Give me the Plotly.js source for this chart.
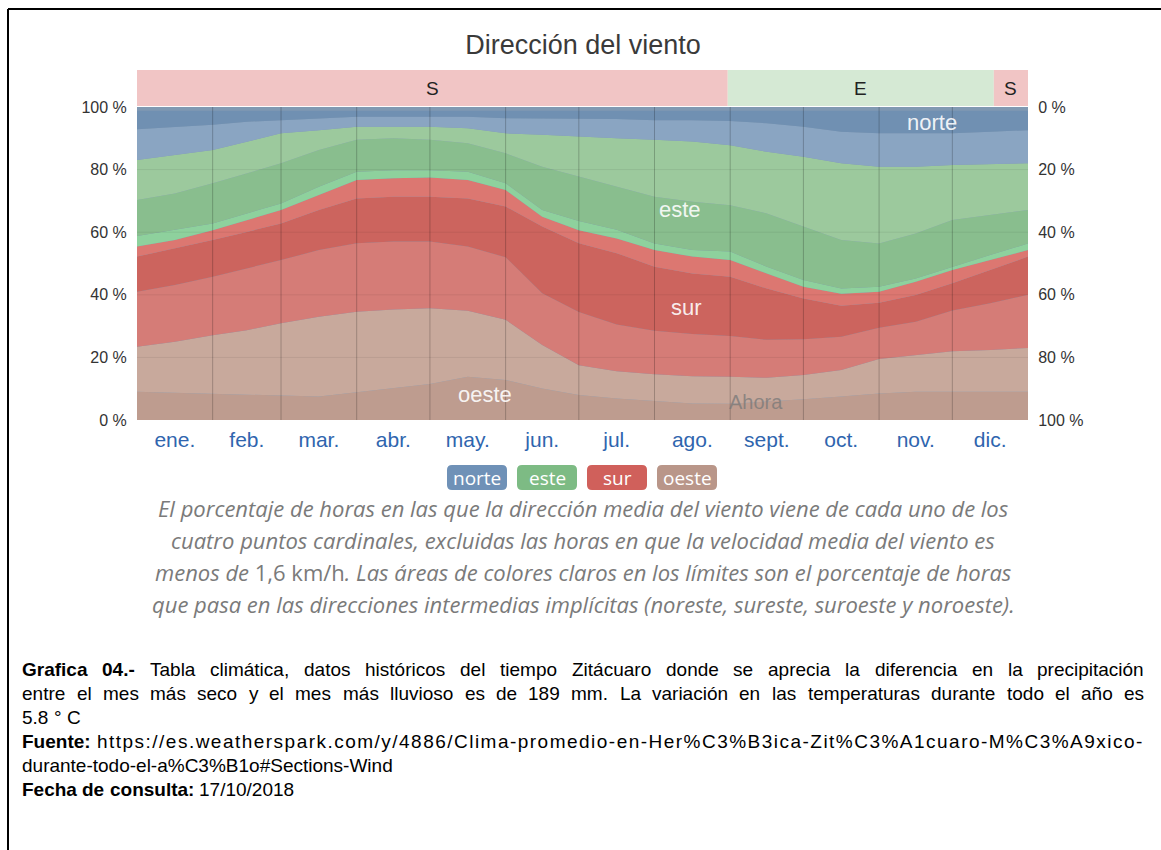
<!DOCTYPE html>
<html><head><meta charset="utf-8">
<script src="https://cdn.plot.ly/plotly-3.0.1.min.js"></script>
<style>html,body{margin:0;padding:0;background:#fff;overflow:hidden}#chart{width:1161px;height:850px}</style>
</head><body><div id="chart"></div>
<script>
// ---- data (percent of hours, cumulative band tops, bottom -> top) ----
const days = [0,15.5,31,45,59,74.5,90,105,120,135.5,151,166,181,196.5,212,227.5,243,258,273,288.5,304,319,334,349.5,365];
const monthLabels = ['ene.','feb.','mar.','abr.','may.','jun.','jul.','ago.','sept.','oct.','nov.','dic.'];
const monthMid = [15.5,45,74.5,105,135.5,166,196.5,227.5,258,288.5,319,349.5];
const monthStarts = [31,59,90,120,151,181,212,243,273,304,334];
const pctTicks = [0,20,40,60,80,100];
const pctLabels = ['0 %','20 %','40 %','60 %','80 %','100 %'];

const oesteCoreTop  = [9.0,8.7,8.5,8.0,7.8,7.5,8.9,10.1,11.5,13.8,12.8,10.1,8.0,6.9,6.0,5.3,5.2,5.8,6.6,7.5,8.5,9.0,9.0,9.0,9.0];
const oesteLightTop = [23.4,25.0,27.1,28.7,30.9,33.0,34.6,35.3,35.7,34.9,32.0,24.0,17.5,15.6,14.6,14.0,13.8,13.5,14.4,16.0,19.5,20.8,22.0,22.4,23.0];
const surLowTop     = [41.0,43.1,45.8,48.4,51.1,54.3,56.5,57.0,57.0,55.4,52.0,40.5,34.5,30.5,28.5,27.5,26.8,25.6,25.8,26.6,29.5,31.4,35.0,37.3,40.0];
const surCoreTop    = [52.2,54.8,57.5,60.1,62.8,67.1,70.8,71.3,71.3,70.8,68.2,61.8,56.5,53.3,49.0,46.8,45.8,42.0,38.8,36.5,37.5,39.9,43.7,47.9,52.2];
const surHighTop    = [55.4,57.5,60.6,63.9,67.1,71.9,76.7,77.2,77.5,76.7,73.5,64.9,60.6,58.0,54.3,52.2,51.1,46.8,42.6,40.3,41.0,44.2,47.9,51.1,54.3];
const esteLowTop    = [58.8,60.8,62.8,66.0,69.2,74.5,79.3,79.8,79.8,79.3,75.6,67.1,63.6,60.8,56.4,54.3,53.8,49.0,44.7,42.0,42.6,45.2,49.0,52.7,56.4];
const esteCoreTop   = [70.3,72.4,75.6,78.8,82.0,86.3,89.5,90.0,89.5,88.4,85.2,80.9,77.7,74.5,71.3,69.7,68.6,66.0,61.8,57.5,56.4,59.6,63.9,65.5,67.1];
const esteHighTop   = [83.1,84.7,86.3,88.9,91.6,92.6,93.7,93.7,93.7,93.2,91.6,91.1,90.5,90.0,89.5,89.0,87.8,85.7,84.1,82.0,80.9,80.9,81.5,81.8,82.0];
const norteLowTop   = [92.9,93.7,94.3,95.3,95.8,96.4,96.9,96.9,96.9,96.9,96.4,96.4,96.4,96.2,95.8,95.8,95.5,94.8,93.7,92.1,91.6,91.6,91.6,92.1,92.6];
const norteCoreTop  = [98.8,98.8,98.7,98.8,98.8,98.9,98.8,98.8,98.7,98.8,98.8,98.8,98.7,98.8,98.8,98.8,98.7,98.8,98.8,98.8,98.7,98.8,98.8,98.8,98.8];

// dominant direction bar
const domLabels = ['S','E','S'];
const domStart  = [0,242,351];
const domEnd    = [242,351,365];

const legendNames = ['norte','este','sur','oeste'];
const legendColors = ['#6f91b7','#7dbb84','#d0605b','#b99689'];

// ---- drawing ----
const bands = [
  [oesteCoreTop,'#be9c8f'],[oesteLightTop,'#c8a99c'],[surLowTop,'#d57c77'],[surCoreTop,'#cc645e'],
  [surHighTop,'#dc7771'],[esteLowTop,'#8ed19d'],[esteCoreTop,'#89be8e'],[esteHighTop,'#9cc99d'],
  [norteLowTop,'#8aa5c2'],[norteCoreTop,'#7090b2']
];
const traces = bands.map((b,i)=>({
  x: days, y: b[0], type:'scatter', mode:'lines',
  line:{width:0,color:b[1]}, fill: i===0?'tozeroy':'tonexty', fillcolor:b[1],
  hoverinfo:'skip', showlegend:false
}));
// invisible trace so the right-hand (reversed) axis is drawn
traces.push({x:days,y:norteCoreTop,yaxis:'y2',type:'scatter',mode:'none',hoverinfo:'skip',showlegend:false});

const W=1161,H=850,L=137,R=1028,T=107,B=420;
const px = x=>(x-L)/(R-L), py = y=>(B-y)/(B-T);
const FONT = 'Liberation Sans, Arial, sans-serif';

const shapes = [];
monthStarts.forEach(d=>shapes.push({type:'line',xref:'x',yref:'paper',x0:d,x1:d,y0:0,y1:1,line:{color:'rgba(0,0,0,0.22)',width:1},layer:'above'}));
[20,40,60,80].forEach(v=>shapes.push({type:'line',xref:'paper',yref:'y',x0:0,x1:1,y0:v,y1:v,line:{color:'rgba(0,0,0,0.07)',width:1},layer:'above'}));
domLabels.forEach((s,i)=>shapes.push({type:'rect',xref:'x',yref:'paper',x0:domStart[i],x1:domEnd[i],y0:py(106),y1:py(70),line:{width:0},fillcolor:s==='S'?'#f1c5c5':'#d5e9d4',layer:'below'}));
// frame
shapes.push({type:'line',xref:'paper',yref:'paper',x0:px(8),x1:px(1170),y0:py(9),y1:py(9),line:{color:'#000',width:2}});
shapes.push({type:'line',xref:'paper',yref:'paper',x0:px(8),x1:px(8),y0:py(9),y1:py(860),line:{color:'#000',width:2}});

const ann = [];
const A = o=>ann.push(Object.assign({showarrow:false,xanchor:'center',yanchor:'middle',borderpad:0,borderwidth:0},o));
domLabels.forEach((s,i)=>A({xref:'x',yref:'paper',x:(domStart[i]+domEnd[i])/2,y:py(88),text:s,font:{family:FONT,size:19,color:'#222'}}));
const inW = 'rgba(255,255,255,0.9)';
A({xref:'x',yref:'y',x:325.7,y:95.2,text:'norte',font:{family:FONT,size:22,color:inW}});
A({xref:'x',yref:'y',x:222.4,y:67.1,text:'este',font:{family:FONT,size:22,color:inW}});
A({xref:'x',yref:'y',x:224.9,y:36.1,text:'sur',font:{family:FONT,size:22,color:inW}});
A({xref:'x',yref:'y',x:142.6,y:8.0,text:'oeste',font:{family:FONT,size:22,color:inW}});
A({xref:'x',yref:'y',x:253.6,y:5.6,text:'Ahora',font:{family:FONT,size:20,color:'rgba(120,120,120,0.75)'}});

// legend chips (rounded)
const legL=[447,517,587,657], chipW=60, chipTop=465, chipBot=490, rad=5;
legendNames.forEach((n,i)=>{
  const x0=legL[i], x1=x0+chipW;
  const p = (x,y)=>px(x)+','+py(y);
  const path = 'M'+p(x0+rad,chipTop)+' L'+p(x1-rad,chipTop)+' Q'+p(x1,chipTop)+' '+p(x1,chipTop+rad)+
    ' L'+p(x1,chipBot-rad)+' Q'+p(x1,chipBot)+' '+p(x1-rad,chipBot)+' L'+p(x0+rad,chipBot)+
    ' Q'+p(x0,chipBot)+' '+p(x0,chipBot-rad)+' L'+p(x0,chipTop+rad)+' Q'+p(x0,chipTop)+' '+p(x0+rad,chipTop)+' Z';
  shapes.push({type:'path',xref:'paper',yref:'paper',path:path,fillcolor:legendColors[i],line:{width:0}});
  A({xref:'paper',yref:'paper',x:px(x0+chipW/2),y:py((chipTop+chipBot)/2),text:n,font:{family:'Open Sans, sans-serif',size:19,color:'#fff'}});
});

const caption = [
 'El porcentaje de horas en las que la dirección media del viento viene de cada uno de los',
 'cuatro puntos cardinales, excluidas las horas en que la velocidad media del viento es',
 'menos de <span style="font-style:normal">1,6 km/h</span>. Las áreas de colores claros en los límites son el porcentaje de horas',
 'que pasa en las direcciones intermedias implícitas (noreste, sureste, suroeste y noroeste).'
];
const capY=[508,540,572,604];
caption.forEach((t,i)=>A({xref:'paper',yref:'paper',x:px(583),y:py(capY[i]),text:t,font:{family:'Open Sans, sans-serif',size:22,color:'#7a7a7a',style:'italic'}}));

// note block below the chart (justified like the source document)
const NOTE_SIZE=19, colL=22, colR=1144;
const ctx=document.createElement('canvas').getContext('2d');
const meas=(t,b)=>{ctx.font=(b?'bold ':'')+NOTE_SIZE+'px "Liberation Sans", Arial, sans-serif';return ctx.measureText(t).width;};
const noteAnn=(x,y,text)=>A({xref:'paper',yref:'paper',x:px(x),y:py(y),xanchor:'left',text:text,font:{family:FONT,size:NOTE_SIZE,color:'#000'}});
function noteLine(boldPart, normalPart, y, justify){
  const words=[];
  if(boldPart) boldPart.split(' ').forEach(w=>words.push({w,b:true}));
  if(normalPart) normalPart.split(' ').forEach(w=>words.push({w,b:false}));
  const widths=words.map(o=>meas(o.w,o.b));
  const total=widths.reduce((a,b)=>a+b,0);
  const gap = justify && words.length>1 ? (colR-colL-total)/(words.length-1) : meas(' ',false);
  let x=colL;
  words.forEach((o,i)=>{ noteAnn(x,y,o.b?'<b>'+o.w+'</b>':o.w); x+=widths[i]+gap; });
}
const noteY=[669,693,717,741,765,789];
const sourceUrl='https://es.weatherspark.com/y/4886/Clima-promedio-en-Her%C3%B3ica-Zit%C3%A1cuaro-M%C3%A9xico-';
noteLine('Grafica 04.-','Tabla climática, datos históricos del tiempo Zitácuaro donde se aprecia la diferencia en la precipitación',noteY[0],true);
noteLine('','entre el mes más seco y el mes más lluvioso es de 189 mm. La variación en las temperaturas durante todo el año es',noteY[1],true);
noteLine('','5.8 ° C',noteY[2],false);
noteAnn(colL,noteY[3],'<b>Fuente:</b>');
(function(){ // URL stretched across the rest of the line as in the source
  const x0=97, nat=meas(sourceUrl,false);
  const ls=Math.max(0,(colR-x0-nat)/sourceUrl.length);
  noteAnn(x0,noteY[3],'<span style="letter-spacing:'+ls.toFixed(2)+'px">'+sourceUrl+'</span>');
})();
noteLine('','durante-todo-el-a%C3%B1o#Sections-Wind',noteY[4],false);
noteLine('Fecha de consulta:','17/10/2018',noteY[5],false);

const axBase = {showgrid:false,zeroline:false,showline:false,ticks:'outside',tickcolor:'rgba(0,0,0,0)',fixedrange:true};
const layout = {
  width:W,height:H,margin:{l:L,r:W-R,t:T,b:H-B},
  paper_bgcolor:'#fff',plot_bgcolor:'#8199b2',showlegend:false,
  title:{text:'Dirección del viento',x:px(583),xref:'paper',xanchor:'center',y:1-45/H,yref:'container',yanchor:'middle',font:{family:FONT,size:27,color:'#3a3a3a'}},
  xaxis:Object.assign({},axBase,{range:[0,365],tickvals:monthMid,ticktext:monthLabels,ticklen:1,tickfont:{family:FONT,size:21,color:'#2f65ae'}}),
  yaxis:Object.assign({},axBase,{range:[0,100],tickvals:pctTicks,ticktext:pctLabels,ticklen:6,tickfont:{family:FONT,size:16,color:'#333'}}),
  yaxis2:Object.assign({},axBase,{range:[100,0],overlaying:'y',side:'right',tickvals:pctTicks,ticktext:pctLabels,ticklen:6,tickfont:{family:FONT,size:16,color:'#333'}}),
  shapes:shapes,annotations:ann
};
Plotly.newPlot('chart',traces,layout,{displayModeBar:false,staticPlot:true});
</script></body></html>
